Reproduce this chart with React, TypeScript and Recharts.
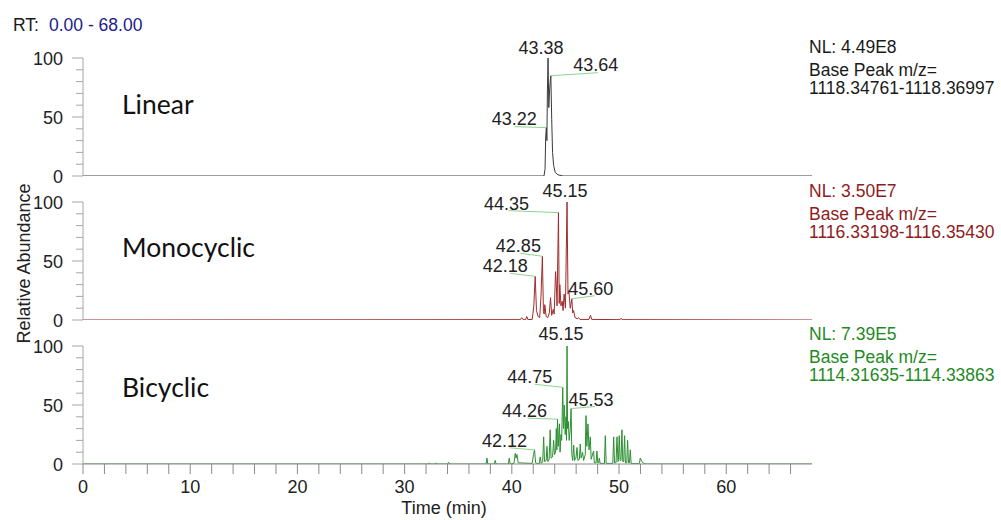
import React from 'react'
import { LineChart, Line, XAxis, YAxis, ReferenceDot } from 'recharts'

// retention time (min) and relative abundance (%)
const LINEAR_TIME = [0, 43.0, 43.1, 43.16, 43.22, 43.27, 43.32, 43.38, 43.45, 43.52, 43.58, 43.64, 43.72, 43.8, 43.9, 44.05, 44.3, 44.8, 68]
const LINEAR_ABUND = [0, 0, 6, 33, 41, 30, 72, 100, 58, 72, 80, 85, 48, 20, 9, 3, 1, 0, 0]

const MONO_TIME = [
  0, 40.8, 40.92, 41.05, 41.3, 41.39, 41.5, 41.9, 42.05, 42.18, 42.3, 42.45, 42.6, 42.72, 42.85, 42.95, 43.02, 43.08,
  43.2, 43.35, 43.5, 43.61, 43.72, 43.86, 43.95, 44.08, 44.15, 44.22, 44.35, 44.42, 44.48, 44.58, 44.7, 44.78, 44.88,
  45.0, 45.15, 45.24, 45.32, 45.45, 45.6, 45.68, 45.76, 45.9, 46.1, 46.22, 46.35, 47.2, 47.34, 47.45, 50.1, 50.2, 50.3, 68,
]
const MONO_ABUND = [
  0, 0.3, 2, 0.3, 0.3, 3, 0.3, 0.5, 12, 37, 8, 3, 2, 20, 54, 7, 5, 13,
  3, 2, 6, 19, 4, 9, 5, 41, 30, 12, 91, 14, 30, 12, 16, 8, 22,
  10, 100, 22, 25, 10, 18, 6, 8, 2, 1, 2, 0.5, 0.5, 4, 0.5, 0.3, 1.5, 0.3, 0,
]

const BI_TIME = [
  0, 32.2, 32.3, 32.4, 32.8, 32.9, 33.0, 34.0, 34.1, 34.2, 37.6, 37.68, 37.76, 38.37, 38.45, 38.53, 39.68, 39.76, 39.84,
  40.2, 40.32, 40.4, 40.48, 40.6, 41.9, 42.02, 42.12, 42.22, 42.55, 42.65, 42.75, 42.88, 42.97, 43.05, 43.2, 43.28, 43.36,
  43.48, 43.58, 43.66, 43.8, 43.9, 43.98, 44.08, 44.15, 44.2, 44.26, 44.33, 44.44, 44.5, 44.58, 44.65, 44.75, 44.82, 44.9,
  44.98, 45.05, 45.1, 45.15, 45.2, 45.27, 45.35, 45.45, 45.53, 45.6, 45.68, 45.77, 45.85, 45.98, 46.08, 46.16, 46.3, 46.38,
  46.46, 46.6, 46.7, 46.85, 46.92, 47.0, 47.1, 47.2, 47.32, 47.4, 47.63, 47.7, 47.86, 47.94, 48.02, 48.1, 48.16, 48.24,
  48.64, 48.72, 48.8, 49.42, 49.5, 49.58, 49.72, 49.81, 49.9, 49.95, 50.02, 50.1, 50.18, 50.27, 50.35, 50.44, 50.52, 50.6,
  50.72, 50.8, 50.88, 50.97, 51.05, 51.13, 51.9, 51.98, 52.1, 52.3, 52.5, 68,
]
const BI_ABUND = [
  0, 0, 1, 0, 0, 1, 0, 0, 1.5, 0, 0, 5, 0, 0, 3, 0, 0, 5, 0,
  0.5, 9, 5, 8, 1, 0.5, 8, 12, 1, 0, 6, 0.5, 2, 23, 2, 3, 15, 2,
  4, 29, 5, 6, 20, 8, 10, 30, 12, 38, 15, 34, 10, 25, 20, 65, 30, 50,
  25, 40, 20, 100, 30, 36, 20, 30, 47, 8, 3, 16, 3, 5, 14, 3, 4, 17,
  5, 10, 3, 8, 41, 15, 34, 12, 23, 4, 11, 1, 1, 11, 1, 1, 5, 0.5,
  0.5, 24, 0.5, 0.5, 23, 1, 1, 23, 2, 4, 24, 3, 3, 29, 2, 2, 24, 1,
  1, 20, 1, 1, 12, 0.3, 0.3, 5, 2.5, 0.5, 0, 0,
]

// labelled peaks: retention time and the height the label points at
const LINEAR_PEAKS = [43.38, 43.22, 43.64]
const LINEAR_PEAK_ABUND = [100, 41, 85]
const MONO_PEAKS = [45.15, 44.35, 42.85, 42.18, 45.6]
const MONO_PEAK_ABUND = [100, 91, 54, 37, 18]
const BI_PEAKS = [45.15, 44.75, 45.53, 44.26, 42.12]
const BI_PEAK_ABUND = [100, 65, 47, 38, 12]

const Y_TICKS = [0, 10, 20, 30, 40, 50, 60, 70, 80, 90, 100]
const X_TICKS = [0, 2, 4, 6, 8, 10, 12, 14, 16, 18, 20, 22, 24, 26, 28, 30, 32, 34, 36, 38, 40, 42, 44, 46, 48, 50, 52, 54, 56, 58, 60, 62, 64, 66]

// label placement relative to peak: [textDx, textDy, leaderDx, leaderDy] (leader null = none)
const LINEAR_TAGS = [[-7, -4, null, null], [-32, -3, -32, -1], [45, -5, 47, -3]]
const MONO_TAGS = [[-2, -5, null, null], [-52, -3, -50, -2], [-24, -4, -22, -3], [-30, -4, -25, -3], [19, -4, 23, -3]]
const BI_TAGS = [[-6, -6, null, null], [-33, -4, -28, -3], [20, -3, 24, -2], [-33, -2, -30, -1], [-30, -3, -25, -2]]

const SANS = '"Liberation Sans", Arial, sans-serif'
const PLOT_LEFT = 83
const PLOT_RIGHT = 812
const PANEL_H = 118
const TOP_PAD = 30

const panels = [
  { name: 'Linear', top: 58, time: LINEAR_TIME, abund: LINEAR_ABUND, peaks: LINEAR_PEAKS, peakAbund: LINEAR_PEAK_ABUND, tags: LINEAR_TAGS, color: '#3a3a3a', showX: false },
  { name: 'Monocyclic', top: 202, time: MONO_TIME, abund: MONO_ABUND, peaks: MONO_PEAKS, peakAbund: MONO_PEAK_ABUND, tags: MONO_TAGS, color: '#a02c2c', showX: false },
  { name: 'Bicyclic', top: 346, time: BI_TIME, abund: BI_ABUND, peaks: BI_PEAKS, peakAbund: BI_PEAK_ABUND, tags: BI_TAGS, color: '#2a9030', showX: true },
]

function YTick({ x, y, payload }: any) {
  const v = payload.value
  const major = v % 50 === 0
  return (
    <g>
      <line x1={x - (major ? 11 : 7)} x2={x} y1={y} y2={y} stroke="#a6a6a6" />
      {major && (
        <text x={x - 20} y={y + 6.5} textAnchor="end" fontSize={18} fill="#222" fontFamily={SANS}>
          {v}
        </text>
      )}
    </g>
  )
}

function XTick({ x, y, payload }: any) {
  const v = payload.value
  return (
    <g>
      <line x1={x} x2={x} y1={y} y2={y + 10} stroke="#8a8a8a" />
      {v % 10 === 0 && (
        <text x={x} y={y + 29} textAnchor="middle" fontSize={18} fill="#222" fontFamily={SANS}>
          {v}
        </text>
      )}
    </g>
  )
}

function PeakTag({ cx, cy, text, tag }: any) {
  const [tx, ty, lx, ly] = tag
  return (
    <g>
      {lx !== null && <line x1={cx} y1={cy} x2={cx + lx} y2={cy + ly} stroke="#8fd48f" strokeWidth={1} />}
      <text x={cx + tx} y={cy + ty} textAnchor="middle" fontSize={18} fill="#222" fontFamily={SANS}>
        {text}
      </text>
    </g>
  )
}

function Panel({ cfg }: any) {
  const data = cfg.time.map((t: number, i: number) => ({ t, v: cfg.abund[i] }))
  const bottom = cfg.showX ? 56 : 14
  return (
    <div style={{ position: 'absolute', left: 0, top: cfg.top - TOP_PAD }}>
      <LineChart
        width={1001}
        height={TOP_PAD + PANEL_H + bottom}
        data={data}
        margin={{ top: TOP_PAD, right: 1001 - PLOT_RIGHT, bottom: cfg.showX ? 0 : 14, left: PLOT_LEFT - 43 }}
      >
        <XAxis
          type="number"
          dataKey="t"
          domain={[0, 68]}
          ticks={X_TICKS}
          interval={0}
          hide={!cfg.showX}
          height={56}
          tickSize={0}
          tickMargin={0}
          tick={<XTick />}
          axisLine={{ stroke: '#8a8a8a' }}
          allowDataOverflow
        />
        <YAxis
          type="number"
          domain={[0, 100]}
          ticks={Y_TICKS}
          interval={0}
          width={43}
          tickSize={0}
          tickMargin={0}
          tick={<YTick />}
          axisLine={{ stroke: '#a6a6a6' }}
          allowDataOverflow
        />
        <Line type="linear" dataKey="v" stroke={cfg.color} strokeWidth={1} dot={false} isAnimationActive={false} />
        {cfg.peaks.map((t: number, i: number) => (
          <ReferenceDot
            key={t}
            x={t}
            y={cfg.peakAbund[i]}
            r={0}
            ifOverflow="visible"
            shape={(p: any) => <PeakTag cx={p.cx} cy={p.cy} text={t.toFixed(2)} tag={cfg.tags[i]} />}
          />
        ))}
      </LineChart>
    </div>
  )
}

const NL_BLOCKS = [
  { nl: 'NL: 4.49E8', range: '1118.34761-1118.36997', y: 53, color: '#1a1a1a' },
  { nl: 'NL: 3.50E7', range: '1116.33198-1116.35430', y: 197, color: '#8e1c1c' },
  { nl: 'NL: 7.39E5', range: '1114.31635-1114.33863', y: 340, color: '#1f8a1f' },
]
const NAME_BASELINES = [114, 257, 397]

export default function App() {
  return (
    <div style={{ position: 'fixed', left: 0, top: 0, width: 1001, height: 520, background: '#fff', overflow: 'hidden' }}>
      {panels.map((p) => (
        <Panel key={p.name} cfg={p} />
      ))}
      <svg width={1001} height={520} style={{ position: 'absolute', left: 0, top: 0, pointerEvents: 'none' }}>
        <text x={13} y={31} fontSize={17.5} fontFamily={SANS} fill="#1a1a1a">RT:</text>
        <text x={49} y={31} fontSize={17.5} fontFamily={SANS} fill="#1c1c8a">0.00 - 68.00</text>
        {NL_BLOCKS.map((b) => (
          <g key={b.nl} fontFamily={SANS} fontSize={17.5} fill={b.color}>
            <text x={809} y={b.y}>{b.nl}</text>
            <text x={809} y={b.y + 23}>Base Peak m/z=</text>
            <text x={809} y={b.y + 41}>{b.range}</text>
          </g>
        ))}
        {panels.map((p, i) => (
          <text key={p.name} x={122} y={NAME_BASELINES[i]} fontSize={26.5} fontFamily="Lato, 'Open Sans', sans-serif" fill="#111">
            {p.name}
          </text>
        ))}
        <text transform="translate(29.5,263.5) rotate(-90)" textAnchor="middle" fontSize={18} fontFamily={SANS} fill="#222">
          Relative Abundance
        </text>
        <text x={444} y={514} textAnchor="middle" fontSize={18} fontFamily={SANS} fill="#222">
          Time (min)
        </text>
      </svg>
    </div>
  )
}
